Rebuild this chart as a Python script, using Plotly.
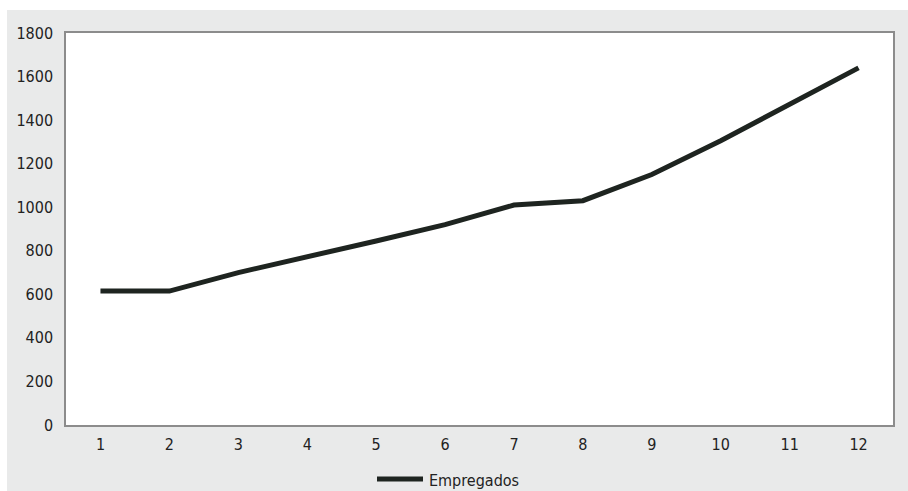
import plotly.graph_objects as go

# Monthly headcount series
months = ["1", "2", "3", "4", "5", "6", "7", "8", "9", "10", "11", "12"]
empregados = [615, 615, 700, 770, 845, 920, 1010, 1030, 1150, 1305, 1470, 1640]
y_ticks = [0, 200, 400, 600, 800, 1000, 1200, 1400, 1600, 1800]
series_name = "Empregados"

FONT = "DejaVu Sans Condensed, Liberation Sans Narrow, Liberation Sans, sans-serif"
BG = "#e9eaea"
FRAME = "#8c8c8c"
TEXT = "#222222"
LINE = "#1e2420"

W, H = 908, 491
L, R, T, B = 66, 15, 33, 66
PW, PH = W - L - R, H - T - B


def px_x(x):
    return (x - L) / PW


def px_y(y):
    return (H - B - y) / PH


fig = go.Figure()
fig.add_trace(go.Scatter(
    x=months, y=empregados, mode="lines", name=series_name,
    line=dict(color=LINE, width=5), showlegend=False,
))

axis_common = dict(
    showline=True, linecolor=FRAME, linewidth=1.5, mirror=True,
    showgrid=False, zeroline=False, automargin=False,
    tickfont=dict(family=FONT, size=16, color=TEXT),
    ticks="",
)

fig.update_xaxes(type="category", range=[-0.5, len(months) - 0.5],
                 ticklabelstandoff=4, **axis_common)
fig.update_yaxes(range=[0, 1800], tickvals=y_ticks, ticklabelstandoff=8,
                 **axis_common)

# white strips along the top and left page edges
fig.add_shape(type="rect", xref="paper", yref="paper",
              x0=-0.2, x1=1.2, y0=px_y(10), y1=1.2,
              fillcolor="white", line_width=0, layer="above")
fig.add_shape(type="rect", xref="paper", yref="paper",
              x0=-0.2, x1=px_x(7), y0=-0.3, y1=1.2,
              fillcolor="white", line_width=0, layer="above")

# legend key drawn below the plot
fig.add_shape(type="line", xref="paper", yref="paper",
              x0=px_x(377), x1=px_x(423), y0=px_y(479), y1=px_y(479),
              line=dict(color=LINE, width=5), layer="above")
fig.add_annotation(text=series_name, xref="paper", yref="paper",
                   x=px_x(427), y=px_y(480), xanchor="left", yanchor="middle",
                   showarrow=False,
                   font=dict(family=FONT, size=16, color=TEXT))

fig.update_layout(
    width=W, height=H,
    margin=dict(l=L, r=R, t=T, b=B, autoexpand=False),
    paper_bgcolor=BG, plot_bgcolor="white",
    showlegend=False,
)

fig.write_html("out.html")
